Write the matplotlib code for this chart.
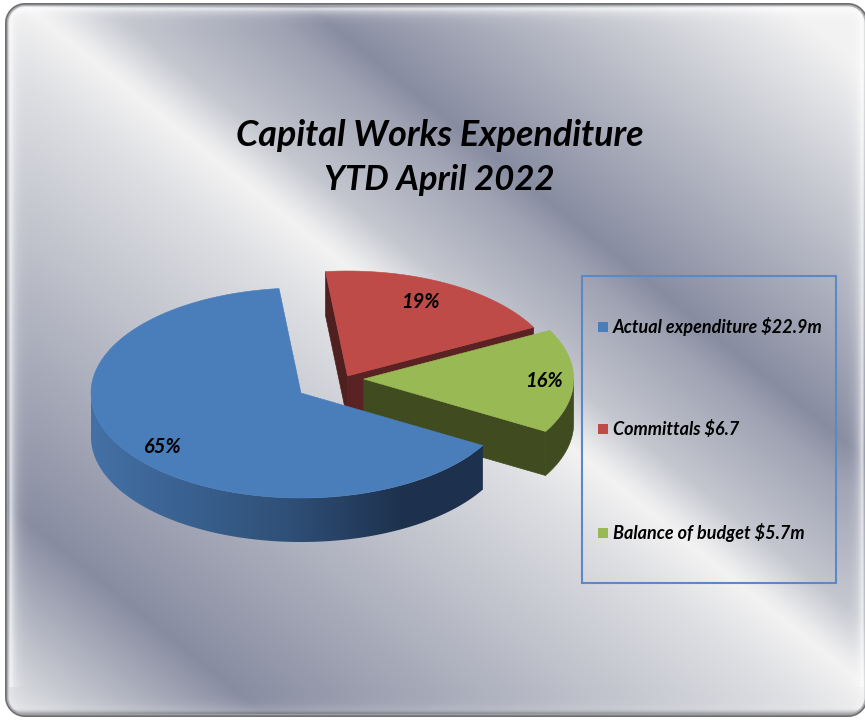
import numpy as np
import matplotlib
matplotlib.use("Agg")
import matplotlib.pyplot as plt
from matplotlib.colors import LinearSegmentedColormap
from matplotlib.patches import Polygon, Rectangle

# Chart content
title_lines = ["Capital Works Expenditure", "YTD April 2022"]
categories = ["Actual expenditure $22.9m", "Committals $6.7", "Balance of budget $5.7m"]
shares = [65, 19, 16]

# Appearance
top_colors = ["#4a7ebb", "#be4b48", "#98b954"]
wall_colors = ["#2f5078", "#5a2222", "#404b20"]
FONT = "Lato"
W, H = 865, 720
RX, RY, DEPTH = 210, 105, 44
FIRST_ANGLE = -30.0
apexes = [(301, 393), (347.5, 376), (363.7, 379)]
label_spots = [(-0.66, -0.51), (0.345, 0.70), (0.86, -0.02)]
legend_rows = [327, 429, 533]
title_rows = [136, 180]
title_sizes = [25.8, 24.9]
FX0, FY0, FX1, FY1, CORNER = 5, 3, 868, 717, 20

fig = plt.figure(figsize=(W / 100, H / 100), dpi=100, facecolor="white")
ax = fig.add_axes([0, 0, 1, 1])
ax.set_xlim(0, W)
ax.set_ylim(H, 0)
ax.axis("off")

# Brushed-metal backdrop: diagonal bands, blue-grey in the dark parts and neutral in the light
xx, yy = np.meshgrid(np.arange(W) + 0.5, np.arange(H) + 0.5)
t = yy - 0.81 * xx
band_t = [-700, -632, -243, -200, -80, -30, -15, 60, 500, 720]
band_v = [0.95, 0.95, 0.53, 0.62, 0.77, 0.92, 0.95, 0.87, 0.53, 0.92]
level = np.interp(t, band_t, band_v)
tint = np.clip((0.95 - level) / 0.42, 0, 1)
panel = np.clip(np.dstack([level, level + 0.02 * tint, level + 0.1 * tint]), 0, 1)

# Distance inside the rounded frame edge drives the bevel and the outline
cx, cy = (FX0 + FX1) / 2, (FY0 + FY1) / 2
qx = np.abs(xx - cx) - ((FX1 - FX0) / 2 - CORNER)
qy = np.abs(yy - cy) - ((FY1 - FY0) / 2 - CORNER)
edge = CORNER - (np.hypot(np.maximum(qx, 0), np.maximum(qy, 0)) + np.minimum(np.maximum(qx, qy), 0))


def blend(base, color, alpha):
    return base * (1 - alpha[..., None]) + np.asarray(color) * alpha[..., None]


glow = np.clip((edge - 3) / 3, 0, 1) * np.exp(-np.maximum(edge - 5, 0) / 5) * 0.85
glow[yy > FY1 - 30] *= 0.35
panel = blend(panel, (1, 1, 1), glow)
panel = blend(panel, (0.3, 0.3, 0.3), np.clip((yy - (FY1 - 9)) / 9, 0, 1) ** 1.5 * 0.8)
panel = blend(panel, (0.64, 0.65, 0.66), np.clip(3.8 - edge, 0, 1) * 0.85)
panel = blend(panel, (0.44, 0.44, 0.45), np.clip(2.2 - edge, 0, 1))
panel = blend(panel, (1, 1, 1), np.clip(0.5 - edge, 0, 1))
ax.imshow(np.clip(panel, 0, 1), extent=(0, W, H, 0), zorder=1, aspect="auto",
          interpolation="nearest")


def rim(apex, deg, drop=0.0):
    th = np.radians(deg)
    return apex[0] + RX * np.cos(th), apex[1] - RY * np.sin(th) + drop


def arc(apex, d0, d1, drop=0.0):
    degs = np.linspace(d0, d1, 160)
    return np.column_stack(rim(apex, degs, drop))


def radial_wall(apex, deg, color, z):
    rx, ry = rim(apex, deg)
    ax.add_patch(Polygon([apex, (rx, ry), (rx, ry + DEPTH), (apex[0], apex[1] + DEPTH)],
                         fc=color, ec=color, lw=0.5, zorder=z))


def outer_wall(apex, d0, d1):
    return np.vstack([arc(apex, d0, d1), arc(apex, d1, d0, DEPTH)])


def top_face(apex, d0, d1, color, z):
    pts = np.vstack([[apex], arc(apex, d0, d1)])
    ax.add_patch(Polygon(pts, fc=color, ec=color, lw=0.4, zorder=z))


# Slice angles run clockwise from the first angle, in category order
sweeps = [s / sum(shares) * 360 for s in shares]
ends = FIRST_ANGLE - np.cumsum(sweeps)
starts = np.concatenate([[FIRST_ANGLE], ends[:-1]])

# Red slice, furthest back
red_top, red_low = starts[1] + 360, ends[1] + 360
radial_wall(apexes[1], red_top, "#4f2020", 3)
radial_wall(apexes[1], red_low, wall_colors[1], 3)
top_face(apexes[1], red_low, red_top, top_colors[1], 4)

# Green slice
green_top, green_low = starts[2] + 360, ends[2] + 360
radial_wall(apexes[2], green_low, wall_colors[2], 5)
ax.add_patch(Polygon(outer_wall(apexes[2], green_low, min(green_top, 0)),
                     fc=wall_colors[2], ec=wall_colors[2], lw=0.4, zorder=5))
top_face(apexes[2], green_low, green_top, top_colors[2], 6)

# Blue slice, nearest the viewer, with a shaded outer wall
blue_a, blue_b = starts[0] + 360, ends[0] + 360
wall_poly = Polygon(outer_wall(apexes[0], 180, blue_a), fc="none", ec="none", zorder=7)
ax.add_patch(wall_poly)
shade = LinearSegmentedColormap.from_list(
    "wall", [(0, "#4471a6"), (0.5, "#2f5078"), (0.8, "#1d314d"), (1, "#1d314d")])
wall_img = ax.imshow(np.linspace(0, 1, 256)[None, :], cmap=shade, aspect="auto",
                     extent=(apexes[0][0] - RX, apexes[0][0] + RX * np.cos(np.radians(blue_a)),
                             apexes[0][1] + RY + DEPTH, apexes[0][1] - 60), zorder=7)
wall_img.set_clip_path(wall_poly)
top_face(apexes[0], blue_b, blue_a, top_colors[0], 8)

# Percentage labels on the top faces
for share, apex, spot in zip(shares, apexes, label_spots):
    ax.text(apex[0] + RX * spot[0], apex[1] - RY * spot[1], f"{share}%", family=FONT,
            style="italic", weight="bold", fontsize=14.5, ha="center", va="center",
            color="black", zorder=10)

# Title
for line, y, size in zip(title_lines, title_rows, title_sizes):
    ax.text(439.5, y, line, family=FONT, style="italic", weight="bold", fontsize=size,
            ha="center", va="center", color="black", zorder=10)

# Legend box with key squares
ax.add_patch(Rectangle((581.5, 276), 254, 307, fc="none", ec="#5a8ac6", lw=1.5, zorder=9))
for name, color, y in zip(categories, top_colors, legend_rows):
    ax.add_patch(Rectangle((598, y - 5), 10, 10, fc=color, ec="none", zorder=10))
    ax.text(613, y, name, family=FONT, style="italic", weight="bold", fontsize=12.95,
            ha="left", va="center", color="black", zorder=10)

ax.set_xlim(0, W)
ax.set_ylim(H, 0)
fig.savefig("out.png", dpi=100)
